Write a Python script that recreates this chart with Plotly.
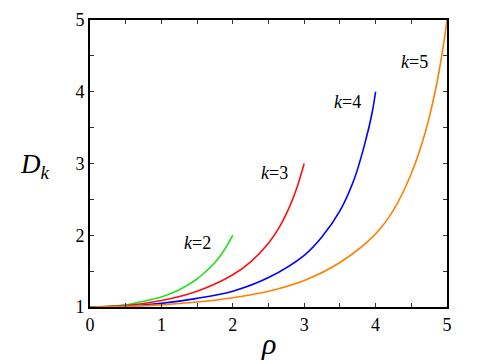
import plotly.graph_objects as go

# Values
rho_k2 = [0, 0.25, 0.5, 0.75, 1.0, 1.25, 1.5, 1.65, 1.75, 1.85, 1.92, 2.0]
d_k2 = [1.00, 1.01, 1.03, 1.08, 1.14, 1.24, 1.39, 1.52, 1.62, 1.75, 1.86, 2.00]

rho_k3 = [0, 0.5, 1.0, 1.5, 2.0, 2.25, 2.5, 2.65, 2.8, 2.9, 3.0]
d_k3 = [1.00, 1.02, 1.09, 1.22, 1.45, 1.63, 1.89, 2.11, 2.41, 2.67, 3.00]

rho_k4 = [0, 0.5, 1.0, 1.5, 2.0, 2.5, 3.0, 3.25, 3.5, 3.7, 3.85, 3.95, 4.0]
d_k4 = [1.00, 1.01, 1.05, 1.12, 1.22, 1.41, 1.72, 1.98, 2.34, 2.78, 3.28, 3.70, 4.00]

rho_k5 = [0, 0.5, 1.0, 1.5, 2.0, 2.5, 3.0, 3.5, 4.0, 4.25, 4.5, 4.7, 4.85, 4.95, 5.0]
d_k5 = [1.00, 1.01, 1.03, 1.07, 1.13, 1.22, 1.37, 1.62, 2.02, 2.35, 2.86, 3.45, 4.08, 4.65, 5.00]

series = [
    ("k=2", rho_k2, d_k2, "#22e022"),
    ("k=3", rho_k3, d_k3, "#ff1010"),
    ("k=4", rho_k4, d_k4, "#0000ff"),
    ("k=5", rho_k5, d_k5, "#ff8000"),
]

labels = ["<i>k</i>=2", "<i>k</i>=3", "<i>k</i>=4", "<i>k</i>=5"]
label_x = [1.51, 2.58, 3.61, 4.54]
label_y = [1.89, 2.87, 3.86, 4.41]

x_tickvals = [0, 1, 2, 3, 4, 5]
x_ticktext = ["0", "1", "2", "3", "4", "5"]
y_tickvals = [1, 2, 3, 4, 5]
y_ticktext = ["1", "2", "3", "4", "5"]

SERIF = "'Liberation Serif', 'DejaVu Serif', 'Times New Roman', serif"

fig = go.Figure()
for name, xs, ys, col in series:
    fig.add_trace(go.Scatter(x=xs, y=ys, mode="lines", name=name,
                             line=dict(color=col, width=1.6, shape="spline", smoothing=0.9)))

for t, lx, ly in zip(labels, label_x, label_y):
    fig.add_annotation(x=lx, y=ly, text=t, showarrow=False,
                       font=dict(family=SERIF, size=18, color="black"))

fig.add_annotation(xref="paper", yref="paper", x=-0.155, y=0.49, xanchor="center",
                   text="<i>D</i><sub><i>k</i></sub>", showarrow=False,
                   font=dict(family=SERIF, size=27, color="black"))

fig.add_annotation(xref="paper", yref="paper", x=0.5, y=-0.19,
                   text="<i>ρ</i>", showarrow=False,
                   font=dict(family=SERIF, size=30, color="black"))

axis_common = dict(showgrid=False, zeroline=False, showline=True, linecolor="black",
                   linewidth=1.8, mirror="ticks", ticks="inside", ticklen=4,
                   tickwidth=1, tickcolor="#333333", automargin=False,
                   minor=dict(dtick=0.5, ticks="inside", ticklen=4, tickwidth=1,
                              tickcolor="#333333", showgrid=False),
                   tickfont=dict(family=SERIF, size=18, color="black"))

fig.update_layout(
    width=480, height=360,
    margin=dict(l=82, r=41, t=12, b=61),
    paper_bgcolor="white", plot_bgcolor="white",
    showlegend=False,
    xaxis=dict(range=[0, 5], tickmode="array", tickvals=x_tickvals, ticktext=x_ticktext,
               **axis_common),
    yaxis=dict(range=[1, 5], tickmode="array", tickvals=y_tickvals, ticktext=y_ticktext,
               **axis_common),
)

fig.write_html("out.html")
